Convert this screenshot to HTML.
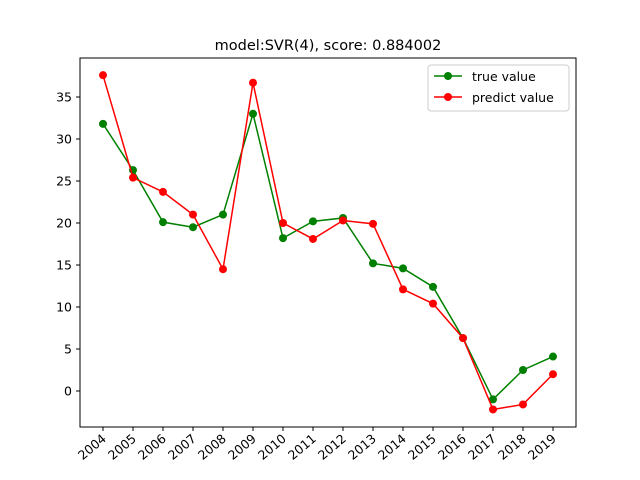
<!DOCTYPE html>
<html><head><meta charset="utf-8"><style>body{margin:0;background:#fff}svg{display:block;font-family:"DejaVu Sans","Liberation Sans",sans-serif}</style></head>
<body>
<svg id="c" width="640" height="480" xmlns="http://www.w3.org/2000/svg">
<rect width="640" height="480" fill="#fff"/>
<text x="328" y="50" font-size="14.5" text-anchor="middle">model:SVR(4), score: 0.884002</text>
<g id="ax"></g>
<rect x="80" y="58" width="496" height="369" fill="none" stroke="#000" stroke-width="1"/>
<g>
<rect x="428" y="65" width="141" height="46" rx="3" fill="#fff" stroke="#ccc"/>
<line x1="434" y1="76" x2="462" y2="76" stroke="green" stroke-width="1.5"/><circle cx="448" cy="76" r="4" fill="green"/>
<text x="472" y="81" font-size="12.5">true value</text>
<line x1="434" y1="97" x2="462" y2="97" stroke="red" stroke-width="1.5"/><circle cx="448" cy="97" r="4" fill="red"/>
<text x="472" y="102" font-size="12.5">predict value</text>
</g>
</svg>
<script>
const years=["2004","2005","2006","2007","2008","2009","2010","2011","2012","2013","2014","2015","2016","2017","2018","2019"];
const trueVals=[31.8,26.3,20.1,19.5,21.0,33.0,18.2,20.2,20.6,15.2,14.6,12.4,6.3,-1.0,2.5,4.1];
const predVals=[37.6,25.4,23.7,21.0,14.5,36.7,20.0,18.1,20.3,19.9,12.1,10.4,6.3,-2.2,-1.6,2.0];
const yTicks=[0,5,10,15,20,25,30,35];
const NS="http://www.w3.org/2000/svg";
const g=document.getElementById('ax');
const xS=i=>103+i*30;
const yS=v=>391-v*8.4;
function mk(t,a){const e=document.createElementNS(NS,t);for(const k in a)e.setAttribute(k,a[k]);g.appendChild(e);return e;}
yTicks.forEach(v=>{
 const l=mk('line',{x1:76,x2:80,y1:yS(v),y2:yS(v),stroke:'#000'});
 
 
 const t=mk('text',{x:72,y:yS(v)+4.5,'font-size':12.5,'text-anchor':'end'});t.textContent=v;
 
 
});
years.forEach((y,i)=>{
 const l=mk('line',{x1:xS(i),x2:xS(i),y1:427,y2:431,stroke:'#000'});
 
 
 const t=mk('text',{x:xS(i)+4,y:440,'font-size':12.5,'text-anchor':'end',transform:`rotate(-40 ${xS(i)+4} 440)`});t.textContent=y;
 
 
});
function series(vals,col,name){
 const p=mk('polyline',{points:vals.map((v,i)=>xS(i)+','+yS(v)).join(' '),fill:'none',stroke:col,'stroke-width':1.5});
 
 
 vals.forEach((v,i)=>{const c=mk('circle',{cx:xS(i),cy:yS(v),r:4,fill:col});
 
 });
}
series(trueVals,'green','true-value');
series(predVals,'red','predict-value');
</script>
</body></html>
